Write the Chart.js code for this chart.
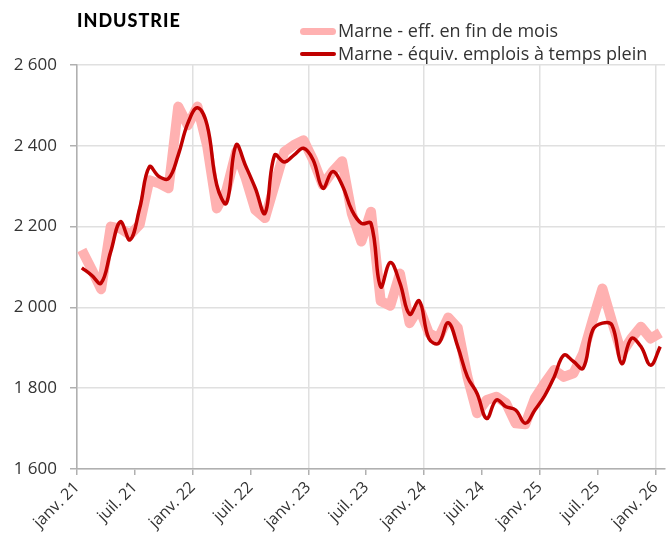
<!DOCTYPE html>
<html lang="fr">
<head>
<meta charset="UTF-8">
<title>Industrie - Marne</title>
<script src="https://cdn.jsdelivr.net/npm/chart.js@4.4.1/dist/chart.umd.min.js"></script>
<style>
  body { margin: 0; padding: 0; background: #fff; }
  #wrap { position: relative; width: 672px; height: 544px; }
  #title {
    position: absolute; left: 77px; top: 9px;
    font-family: Lato, "Noto Sans", sans-serif; font-weight: 900; font-size: 18px;
    color: #000; letter-spacing: 1px;
  }
  .leg {
    position: absolute; left: 300px;
    font-family: "Open Sans", "Noto Sans", sans-serif; font-size: 18px; color: #333;
    white-space: nowrap; line-height: 24px;
  }
  .leg span.swatch {
    display: inline-block; width: 36px; vertical-align: middle;
    border-radius: 4px; margin-right: 2px; position: relative; top: -1px;
  }
</style>
</head>
<body>
<div id="wrap">
  <canvas id="chart" width="672" height="544"></canvas>
  <div id="title">INDUSTRIE</div>
  <div class="leg" style="top:18px"><span class="swatch" style="height:7px;background:#ffb1b1"></span>Marne - eff. en fin de mois</div>
  <div class="leg" style="top:41px"><span class="swatch" style="height:4px;background:#c00000"></span>Marne - équiv. emplois à temps plein</div>
</div>
<script>
  // mois de janv. 21 à janv. 26 (61 points)
  var tickLabels = ['janv. 21', 'juil. 21', 'janv. 22', 'juil. 22', 'janv. 23', 'juil. 23',
                    'janv. 24', 'juil. 24', 'janv. 25', 'juil. 25', 'janv. 26'];

  var effFinMois = [
    2142, 2095, 2045, 2200, 2195, 2180, 2205, 2315, 2307, 2295, 2497, 2451,
    2497, 2400, 2245, 2290, 2385, 2320, 2241, 2221, 2303, 2385, 2402, 2414,
    2365, 2303, 2336, 2362, 2233, 2163, 2237, 2016, 2004, 2084, 1961, 2000,
    1936, 1924, 1975, 1949, 1828, 1738, 1771, 1779, 1763, 1713, 1711, 1775,
    1812, 1845, 1828, 1837, 1886, 1969, 2047, 1965, 1886, 1923, 1952, 1923,
    1937
  ];

  var equivTempsPlein = [
    2098, 2080, 2060, 2138, 2212, 2167, 2245, 2348, 2324, 2319, 2377, 2456,
    2494, 2451, 2303, 2258, 2402, 2350, 2295, 2233, 2377, 2360, 2377, 2394,
    2365, 2295, 2336, 2303, 2241, 2208, 2208, 2051, 2111, 2060, 1983, 2016,
    1923, 1911, 1962, 1903, 1828, 1787, 1725, 1771, 1754, 1746, 1713, 1746,
    1781, 1828, 1882, 1866, 1849, 1944, 1961, 1956, 1861, 1923, 1903, 1857,
    1903
  ];

  // chaque mois est centré dans sa case : x = index + 0.5
  function toPoints(arr) {
    return arr.map(function(v, i) { return { x: i + 0.5, y: v }; });
  }

  function fmt(v) {
    return String(v).replace(/\B(?=(\d{3})+(?!\d))/g, ' ');
  }

  var ctx = document.getElementById('chart').getContext('2d');
  var chart = new Chart(ctx, {
    type: 'line',
    data: {
      datasets: [
        {
          label: 'Marne - eff. en fin de mois',
          data: toPoints(effFinMois),
          borderColor: '#ffb1b1',
          borderWidth: 10,
          borderJoinStyle: 'round',
          pointRadius: 0,
          tension: 0,
          fill: false,
          order: 1
        },
        {
          label: 'Marne - équiv. emplois à temps plein',
          data: toPoints(equivTempsPlein),
          borderColor: '#c00000',
          borderWidth: 3.5,
          borderJoinStyle: 'round',
          pointRadius: 0,
          tension: 0.4,
          fill: false,
          order: 0
        }
      ]
    },
    options: {
      responsive: false,
      animation: false,
      layout: { padding: { top: 65, right: 1, left: 0, bottom: 0 } },
      plugins: {
        legend: { display: false },
        title: { display: false },
        tooltip: { enabled: false }
      },
      scales: {
        x: {
          type: 'linear',
          min: 0,
          max: 61,
          afterFit: function(axis) { axis.height = 75; },
          afterBuildTicks: function(axis) {
            axis.ticks = tickLabels.map(function(l, i) { return { value: i * 6 }; });
          },
          ticks: {
            autoSkip: false,
            maxRotation: 45,
            minRotation: 45,
            padding: 3,
            color: '#333',
            font: { family: '"Open Sans", "Noto Sans", sans-serif', size: 16 },
            callback: function(value) { return tickLabels[Math.round(value / 6)]; }
          },
          grid: {
            color: function(c) {
              return (c.tick && c.tick.value % 12 === 0) ? '#e0e0e0' : 'rgba(0,0,0,0)';
            },
            tickColor: '#b0b0b0',
            tickLength: 6,
            lineWidth: 1.5
          },
          border: { color: '#b0b0b0', width: 1.5 }
        },
        y: {
          min: 1600,
          max: 2600,
          afterFit: function(axis) { axis.width = 77; },
          ticks: {
            stepSize: 200,
            padding: 13,
            color: '#333',
            font: { family: '"Open Sans", "Noto Sans", sans-serif', size: 17 },
            callback: function(value) { return fmt(value); }
          },
          grid: {
            color: '#e0e0e0',
            tickColor: '#b0b0b0',
            tickLength: 7,
            lineWidth: 1.5
          },
          border: { color: '#b0b0b0', width: 1.5 }
        }
      }
    }
  });
</script>
</body>
</html>
